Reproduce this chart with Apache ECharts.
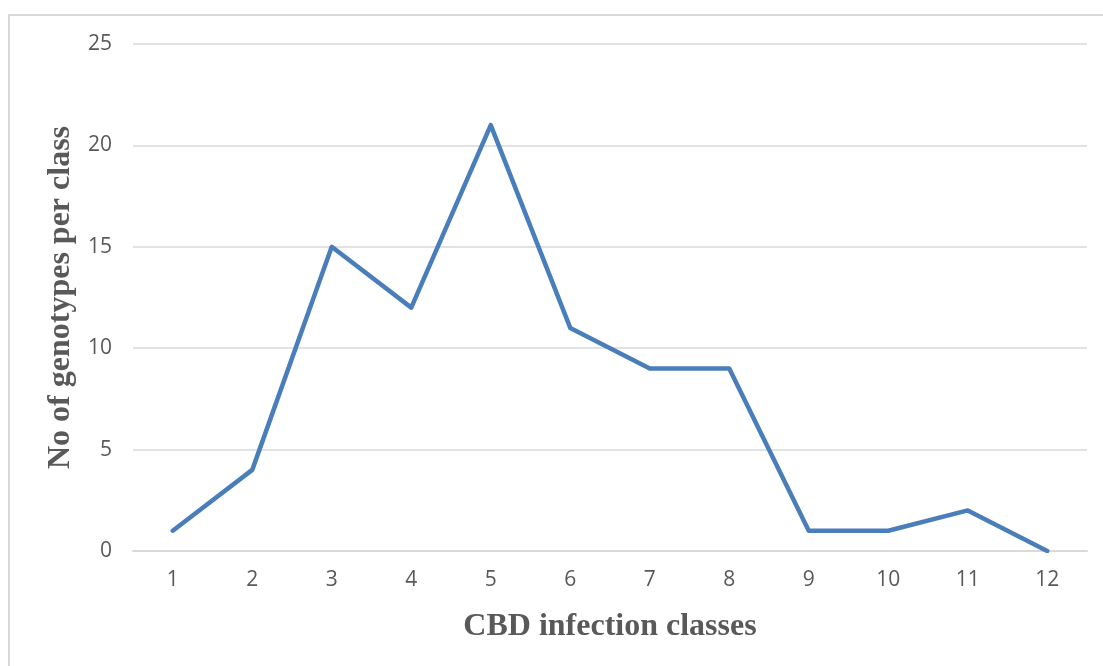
<!DOCTYPE html>
<html><head><meta charset="utf-8">
<script src="https://cdn.jsdelivr.net/npm/echarts@6/dist/echarts.min.js"></script>
<style>
html,body{margin:0;padding:0;background:#fff;overflow:hidden;}
#frame{position:absolute;left:8px;top:14px;width:1200px;height:800px;border:2px solid #d9d9d9;box-sizing:border-box;}
#c{position:absolute;left:0;top:0;width:1103px;height:666px;}
</style></head>
<body>
<div id="frame"></div>
<div id="c"></div>
<script>
const categories = ['1','2','3','4','5','6','7','8','9','10','11','12'];
const genotypes = [1,4,15,12,21,11,9,9,1,1,2,0];
const yTicks = [0,5,10,15,20,25];

const chart = echarts.init(document.getElementById('c'), null, {renderer:'canvas'});
chart.setOption({
  animation:false,
  backgroundColor:'transparent',
  grid:{left:133,right:16,top:44,bottom:115,containLabel:false},
  xAxis:{
    type:'category',data:categories,boundaryGap:true,
    axisLine:{show:true,lineStyle:{color:'#d9d9d9',width:2}},
    axisTick:{show:false},
    axisLabel:{color:'#595959',fontSize:21,fontFamily:'Open Sans',margin:19},
    name:'CBD infection classes',nameLocation:'middle',nameGap:60,
    nameTextStyle:{color:'#595959',fontSize:32,fontWeight:'bold',fontFamily:'Liberation Serif'}
  },
  yAxis:{
    type:'value',min:0,max:25,interval:5,
    axisLine:{show:false},axisTick:{show:false},
    splitLine:{lineStyle:{color:'#d9d9d9',width:1.5}},
    axisLabel:{color:'#595959',fontSize:21,fontFamily:'Open Sans',margin:21,
      formatter:v=>yTicks.includes(v)?String(v):''},
    name:'No of genotypes per class',nameLocation:'middle',nameGap:53,nameRotate:90,
    nameTextStyle:{color:'#595959',fontSize:32,fontWeight:'bold',fontFamily:'Liberation Serif'}
  },
  series:[{
    type:'line',data:genotypes,symbol:'none',
    lineStyle:{color:'#4a7ebb',width:4.5,cap:'round',join:'round'}
  }]
});
</script>
</body></html>
